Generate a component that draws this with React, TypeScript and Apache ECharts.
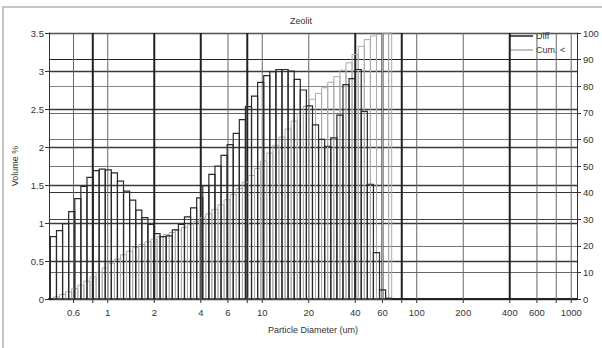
import React, { useEffect, useRef } from "react";
import * as echarts from "echarts";

// Bin edges (particle diameter, um)
const EDGES = [
  0.4252, 0.4656, 0.5099, 0.5584, 0.6115, 0.6697, 0.7334, 0.8031, 0.8795, 0.9631,
  1.0547, 1.155, 1.265, 1.385, 1.517, 1.661, 1.819, 1.992, 2.181, 2.389,
  2.616, 2.865, 3.137, 3.436, 3.762, 4.12, 4.512, 4.941, 5.411, 5.926,
  6.489, 7.106, 7.782, 8.522, 9.333, 10.22, 11.19, 12.26, 13.42, 14.7,
  16.1, 17.63, 19.31, 21.14, 23.15, 25.35, 27.77, 30.41, 33.3, 36.46,
  39.93, 43.73, 47.89, 52.44, 57.43, 62.89, 68.87,
];

// Differential volume % per bin
const DIFF = [
  0.82, 0.9, 0.99, 1.15, 1.32, 1.48, 1.6, 1.69, 1.71, 1.7,
  1.66, 1.55, 1.42, 1.3, 1.17, 1.07, 0.98, 0.86, 0.82, 0.83,
  0.91, 0.98, 1.08, 1.2, 1.33, 1.49, 1.64, 1.75, 1.89, 2.03,
  2.18, 2.36, 2.53, 2.67, 2.85, 2.94, 2.99, 3.02, 3.02, 3.0,
  2.89, 2.75, 2.54, 2.29, 2.1, 2.01, 2.12, 2.42, 2.82, 2.9,
  3.02, 2.47, 1.51, 0.61, 0.12, 0.01,
];

// Cumulative volume % (undersize) at each bin's upper edge
const CUM = [
  0.8, 1.7, 2.7, 3.9, 5.2, 6.7, 8.3, 10.0, 11.7, 13.4,
  15.0, 16.6, 18.0, 19.3, 20.5, 21.5, 22.5, 23.4, 24.2, 25.0,
  25.9, 26.9, 28.0, 29.2, 30.5, 32.0, 33.7, 35.4, 37.3, 39.3,
  41.5, 43.9, 46.4, 49.1, 51.9, 54.8, 57.8, 60.9, 63.9, 66.9,
  69.8, 72.5, 75.1, 77.3, 79.4, 81.5, 83.6, 86.0, 88.8, 91.9,
  95.0, 97.5, 98.9, 99.5, 99.9, 100.0,
];

const X_TICKS = [0.6, 0.8, 1, 2, 4, 6, 8, 10, 20, 40, 60, 80, 100, 200, 400, 600, 800, 1000];
const X_LABELED = [0.6, 1, 2, 4, 6, 10, 20, 40, 60, 100, 200, 400, 600, 1000];
const X_THICK = [0.8, 2, 4, 8, 40, 60, 80, 400];

const X_MIN = 0.4165;
const X_MAX = 1090;

const FONT = "'Liberation Sans', Arial, sans-serif";

export default function App() {
  const ref = useRef<HTMLDivElement>(null);

  useEffect(() => {
    if (!ref.current) return;
    const chart = echarts.init(ref.current, undefined, { renderer: "svg" });

    const n = DIFF.length;
    const center = (i: number) => Math.sqrt(EDGES[i] * EDGES[i + 1]);

    const diffData = DIFF.map((v, i) => [EDGES[i], EDGES[i + 1], v]);
    const cumData = CUM.map((v, i) => [center(i), i + 1 < n ? center(i + 1) : EDGES[n], v]);
    const gridData = X_TICKS.map((v) => [v, 0]);

    const option: any = {
      animation: false,
      textStyle: { fontFamily: FONT },
      title: {
        text: "Zeolit",
        left: "center",
        top: 11,
        textStyle: { fontSize: 9, fontWeight: "normal", color: "#333", fontFamily: FONT },
      },
      grid: { left: 49, right: 25, top: 33, bottom: 49 },
      xAxis: {
        type: "log",
        logBase: 10,
        min: X_MIN,
        max: X_MAX,
        name: "Particle Diameter (um)",
        nameLocation: "middle",
        nameGap: 26,
        nameTextStyle: { fontSize: 9, color: "#333", fontFamily: FONT },
        axisLine: { show: true, lineStyle: { color: "#222", width: 2 } },
        axisTick: { show: false },
        axisLabel: { show: false },
        splitLine: { show: false },
        minorTick: { show: false },
        minorSplitLine: { show: false },
      },
      yAxis: [
        {
          type: "value",
          min: 0,
          max: 3.5,
          interval: 0.5,
          name: "Volume %",
          nameLocation: "middle",
          nameGap: 30,
          nameTextStyle: { fontSize: 9, color: "#333", fontFamily: FONT },
          axisLine: { show: true, lineStyle: { color: "#333", width: 1 } },
          axisTick: { show: true, length: 4, lineStyle: { color: "#333" } },
          axisLabel: { fontSize: 9.5, color: "#333", margin: 5, fontFamily: FONT },
          splitLine: { show: true, lineStyle: { color: "#3a3a3a", width: 1.4 } },
        },
        {
          type: "value",
          min: 0,
          max: 100,
          interval: 10,
          position: "right",
          axisLine: { show: true, lineStyle: { color: "#333", width: 1 } },
          axisTick: { show: true, length: 4, lineStyle: { color: "#333" } },
          axisLabel: { fontSize: 9.5, color: "#333", margin: 6, fontFamily: FONT },
          splitLine: {
            show: true,
            lineStyle: {
              color: ["#555", "#666", "#777", "#444", "#333", "#777", "#777", "#666", "#888", "#222", "#555"],
              width: 1,
            },
          },
        },
      ],
      graphic: [
        {
          type: "rect",
          shape: { x: 3, y: 7, width: 640, height: 380 },
          style: { fill: "none", stroke: "#c4c4c4", lineWidth: 2 },
          silent: true,
        },
        {
          type: "line",
          shape: { x1: 509, y1: 36, x2: 533, y2: 36 },
          style: { stroke: "#222", lineWidth: 1.5 },
        },
        {
          type: "text",
          x: 536,
          y: 36,
          style: { text: "Diff", fontSize: 9, fill: "#333", verticalAlign: "middle", fontFamily: FONT },
        },
        {
          type: "line",
          shape: { x1: 509, y1: 50, x2: 533, y2: 50 },
          style: { stroke: "#999", lineWidth: 1.2 },
        },
        {
          type: "text",
          x: 536,
          y: 50,
          style: { text: "Cum. <", fontSize: 9, fill: "#333", verticalAlign: "middle", fontFamily: FONT },
        },
      ],
      series: [
        {
          type: "custom",
          name: "grid",
          xAxisIndex: 0,
          yAxisIndex: 0,
          clip: false,
          silent: true,
          encode: { x: 0, y: 1 },
          data: gridData,
          z: 1,
          renderItem: (params: any, api: any) => {
            const v = api.value(0);
            const pb = api.coord([v, 0]);
            const pt = api.coord([v, 3.5]);
            const thick = X_THICK.indexOf(v) >= 0;
            const children: any[] = [
              {
                type: "line",
                shape: { x1: pb[0], y1: pt[1], x2: pb[0], y2: pb[1] },
                style: { stroke: thick ? "#222" : "#666", lineWidth: thick ? 2 : 1 },
              },
              {
                type: "line",
                shape: { x1: pb[0], y1: pb[1], x2: pb[0], y2: pb[1] + 4 },
                style: { stroke: "#333", lineWidth: 1 },
              },
            ];
            if (X_LABELED.indexOf(v) >= 0) {
              children.push({
                type: "text",
                x: pb[0],
                y: pb[1] + 8,
                style: {
                  text: String(v),
                  fontSize: 9.5,
                  fill: "#333",
                  align: "center",
                  verticalAlign: "top",
                  fontFamily: FONT,
                },
              });
            }
            return { type: "group", children };
          },
        },
        {
          type: "custom",
          name: "Cum. <",
          xAxisIndex: 0,
          yAxisIndex: 1,
          encode: { x: [0, 1], y: 2 },
          data: cumData,
          z: 2,
          renderItem: (params: any, api: any) => {
            const p0 = api.coord([api.value(0), api.value(2)]);
            const p1 = api.coord([api.value(1), 0]);
            return {
              type: "rect",
              shape: { x: p0[0], y: p0[1], width: p1[0] - p0[0], height: p1[1] - p0[1] },
              style: { fill: "none", stroke: "#aaaaaa", lineWidth: 1 },
            };
          },
        },
        {
          type: "custom",
          name: "Diff",
          xAxisIndex: 0,
          yAxisIndex: 0,
          encode: { x: [0, 1], y: 2 },
          data: diffData,
          z: 3,
          renderItem: (params: any, api: any) => {
            const p0 = api.coord([api.value(0), api.value(2)]);
            const p1 = api.coord([api.value(1), 0]);
            return {
              type: "rect",
              shape: { x: p0[0], y: p0[1], width: p1[0] - p0[0], height: p1[1] - p0[1] },
              style: { fill: "none", stroke: "#2a2a2a", lineWidth: 1.2 },
            };
          },
        },
      ],
    };

    chart.setOption(option);
    return () => chart.dispose();
  }, []);

  return (
    <div
      ref={ref}
      style={{ position: "fixed", left: 0, top: 0, width: 602, height: 348, background: "#fff" }}
    />
  );
}
